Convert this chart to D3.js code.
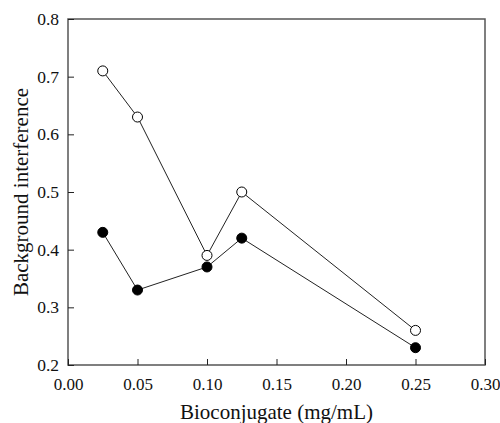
<!DOCTYPE html>
<html>
<head>
<meta charset="utf-8">
<script src="https://cdn.jsdelivr.net/npm/d3@7"></script>
<style>
  body { margin: 0; background: #fff; }
  text { font-family: "Liberation Serif", "Times New Roman", serif; fill: #111; }
</style>
</head>
<body>
<div id="chart-area"></div>
<script>
// data
var conc = [0.025, 0.05, 0.10, 0.125, 0.25]
var openVals = [0.71, 0.63, 0.39, 0.50, 0.26]
var filledVals = [0.43, 0.33, 0.37, 0.42, 0.23]
var xTicks = [0, 0.05, 0.10, 0.15, 0.20, 0.25, 0.30]
var yTicks = [0.2, 0.3, 0.4, 0.5, 0.6, 0.7, 0.8]

var serif = "'Liberation Serif', 'Times New Roman', serif"

var margin = { left: 68, top: 19, right: 15, bottom: 58 }
var width = 500 - margin.left - margin.right
var height = 423 - margin.top - margin.bottom

var svg = d3.select("#chart-area").append("svg")
  .attr("width", 500)
  .attr("height", 423)

var g = svg.append("g")
  .attr("transform", "translate(" + margin.left + "," + margin.top + ")")

var x = d3.scaleLinear().domain([0, 0.30]).range([0, width])
var y = d3.scaleLinear().domain([0.2, 0.8]).range([height, 0])

// frame
g.append("rect")
  .attr("width", width)
  .attr("height", height)
  .attr("fill", "none")
  .attr("stroke", "#555")
  .attr("stroke-width", 1.5)

var xAxis = g.append("g")
  .attr("transform", "translate(0," + height + ")")
  .call(d3.axisBottom(x).tickValues(xTicks).tickFormat(d3.format(".2f")).tickSizeInner(-6).tickSizeOuter(0).tickPadding(13))
xAxis.attr("font-family", serif)
xAxis.select(".domain").remove()
xAxis.selectAll("line").attr("stroke", "#222")
xAxis.selectAll("text").attr("font-size", 17).attr("font-family", serif).attr("fill", "#111")

var yAxis = g.append("g")
  .call(d3.axisLeft(y).tickValues(yTicks).tickFormat(d3.format(".1f")).tickSizeInner(-6).tickSizeOuter(0).tickPadding(9))
yAxis.attr("font-family", serif)
yAxis.select(".domain").remove()
yAxis.selectAll("line").attr("stroke", "#222")
yAxis.selectAll("text").attr("font-size", 17.5).attr("font-family", serif).attr("fill", "#111")

var line = d3.line()
  .x(function (d) { return x(d[0]) })
  .y(function (d) { return y(d[1]) })

var series = [
  { vals: openVals, fill: "#fff" },
  { vals: filledVals, fill: "#000" }
]

series.forEach(function (s) {
  var pts = conc.map(function (c, i) { return [c, s.vals[i]] })
  g.append("path")
    .attr("d", line(pts))
    .attr("fill", "none")
    .attr("stroke", "#222")
    .attr("stroke-width", 1)
  g.selectAll(null)
    .data(pts)
    .enter()
    .append("circle")
    .attr("cx", function (d) { return x(d[0]) })
    .attr("cy", function (d) { return y(d[1]) })
    .attr("r", 5)
    .attr("fill", s.fill)
    .attr("stroke", "#000")
    .attr("stroke-width", 1)
})

svg.append("text")
  .attr("x", margin.left + width / 2)
  .attr("y", 419)
  .attr("text-anchor", "middle")
  .attr("font-family", serif)
  .attr("font-size", 21)
  .text("Bioconjugate (mg/mL)")

svg.append("text")
  .attr("transform", "translate(28," + (margin.top + height / 2) + ") rotate(-90)")
  .attr("text-anchor", "middle")
  .attr("font-family", serif)
  .attr("font-size", 21)
  .text("Background interference")
</script>
</body>
</html>
